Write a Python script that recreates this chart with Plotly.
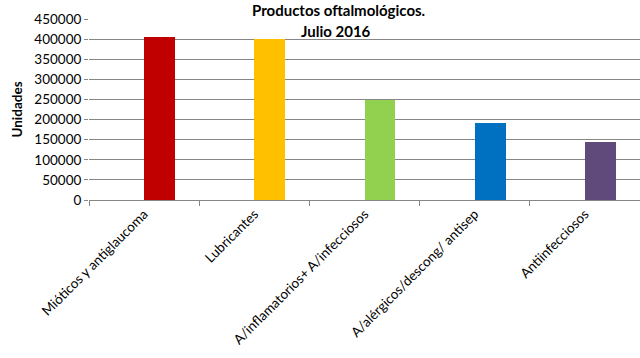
import plotly.graph_objects as go

categories = ["Mióticos y antiglaucoma", "Lubricantes", "A/inflamatorios+ A/infecciosos",
              "A/alérgicos/descong/ antisep", "Antiinfecciosos"]
unidades = [405000, 400000, 249000, 192000, 145000]
bar_colors = ["#C00000", "#FFC000", "#92D050", "#0070C0", "#604A7B"]
y_ticks = [0, 50000, 100000, 150000, 200000, 250000, 300000, 350000, 400000, 450000]
title_lines = ["Productos oftalmológicos.", "Julio 2016"]

font_family = "Lato, 'Open Sans', Arial, sans-serif"

W, H = 640, 358
ML, MR, MT, MB = 89, 0, 19, 158
plot_w = W - ML - MR
plot_h = H - MT - MB

fig = go.Figure(go.Bar(
    x=categories, y=unidades,
    marker=dict(color=bar_colors, line=dict(width=0)),
    width=0.28, offset=0,
    hoverinfo="skip",
))

title_x = [(338 - ML) / plot_w, (335.5 - ML) / plot_w]
title_y = [1 + 8.5 / plot_h, 1 - 11.5 / plot_h]

fig.update_layout(
    width=W, height=H,
    margin=dict(l=ML, r=MR, t=MT, b=MB, autoexpand=False),
    paper_bgcolor="white", plot_bgcolor="white",
    showlegend=False,
    font=dict(family=font_family, size=12, color="#000000"),
    bargap=0,
    annotations=[dict(
        text=f"<b>{t}</b>",
        x=tx, xref="paper", xanchor="center",
        y=ty, yref="paper", yanchor="middle",
        showarrow=False, align="center",
        font=dict(family=font_family, size=15, color="#000000"),
    ) for t, tx, ty in zip(title_lines, title_x, title_y)],
)

fig.update_xaxes(
    type="category", tickangle=-45, tickson="boundaries",
    ticks="outside", ticklen=5, tickcolor="#868686",
    showline=True, linecolor="#868686", linewidth=1,
    showgrid=False, automargin=False,
    tickfont=dict(family=font_family, size=13.5, color="#000000"),
)
fig.update_yaxes(
    range=[0, 450000], tickvals=y_ticks, tickformat="d",
    ticks="outside", ticklen=4, tickcolor="#868686",
    showline=False, showgrid=True, gridcolor="#868686", gridwidth=1,
    zeroline=False, automargin=False,
    tickfont=dict(family=font_family, size=13.5, color="#000000"),
    title=dict(text="<b>Unidades</b>", font=dict(family=font_family, size=13.5, color="#000000"), standoff=8),
)

fig.write_html("out.html", config={"displayModeBar": False},
               post_script="document.body.style.margin='0';")
